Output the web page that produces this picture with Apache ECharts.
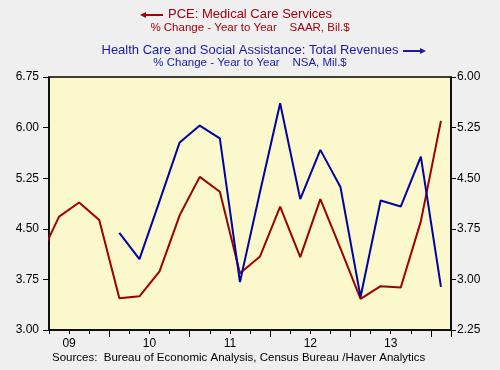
<!DOCTYPE html>
<html>
<head>
<meta charset="utf-8">
<script src="https://cdn.jsdelivr.net/npm/echarts@6/dist/echarts.min.js"></script>
<style>
html,body{margin:0;padding:0;background:#EFEFEF;}
#c{width:500px;height:370px;}
</style>
</head>
<body>
<div id="c"></div>
<script>
// Quarters (first one lies just left of the visible axis and is clipped)
var quarters = ['2009Q1','2009Q2','2009Q3','2009Q4','2010Q1','2010Q2','2010Q3','2010Q4',
  '2011Q1','2011Q2','2011Q3','2011Q4','2012Q1','2012Q2','2012Q3','2012Q4',
  '2013Q1','2013Q2','2013Q3','2013Q4','2014Q1'];
// PCE: Medical Care Services, % change y/y (left axis)
var pceMedical = [4.05, 4.68, 4.89, 4.63, 3.47, 3.50, 3.87, 4.70, 5.27, 5.05, 3.84,
  4.09, 4.83, 4.08, 4.94, 4.21, 3.46, 3.65, 3.63, 4.61, 6.10];
// Health Care and Social Assistance: Total Revenues, % change y/y (right axis)
var healthRevenue = [null, null, null, null, 3.69, 3.30, 4.16, 5.03, 5.28, 5.09, 2.96,
  4.30, 5.61, 4.19, 4.92, 4.37, 2.74, 4.17, 4.08, 4.82, 2.89];
var leftTicks = [3.00, 3.75, 4.50, 5.25, 6.00, 6.75];
var rightTicks = [2.25, 3.00, 3.75, 4.50, 5.25, 6.00];

var axisQuarters = quarters.slice(1);

function toPairs(vals) {
  var out = [];
  for (var i = 0; i < vals.length; i++) {
    if (vals[i] !== null) out.push([i - 0.5, vals[i]]);
  }
  return out;
}

var txt = '#000';
var font = 'Liberation Sans, Arial, sans-serif';
var chart = echarts.init(document.getElementById('c'), null, {renderer: 'canvas'});

var option = {
  backgroundColor: '#EFEFEF',
  animation: false,
  grid: {left: 49, right: 49, top: 77, height: 253, show: true,
    backgroundColor: '#FBF8CB', borderColor: '#000', borderWidth: 1.5},
  xAxis: [{
    type: 'value', min: 0, max: axisQuarters.length, interval: 1, position: 'bottom',
    axisLine: {show: true, lineStyle: {color: '#000', width: 1.5}},
    axisTick: {show: true, length: 4, lineStyle: {color: '#000', width: 1}},
    splitLine: {show: false},
    axisLabel: {color: txt, fontFamily: font, fontSize: 12, margin: 8,
      showMinLabel: true, showMaxLabel: true,
      formatter: function (v) {
        var q = axisQuarters[v];
        if (q && q.slice(4) === 'Q3') return q.slice(2, 4);
        return '';
      }}
  }, {
    type: 'category', data: axisQuarters, boundaryGap: true, position: 'bottom',
    axisLine: {show: false},
    axisTick: {show: true, length: 7, lineStyle: {color: '#000', width: 1},
      interval: function (i, v) { return v.slice(4) === 'Q1'; }},
    axisLabel: {show: false},
    splitLine: {show: false}
  }],
  yAxis: [{
    type: 'value', position: 'left', min: leftTicks[0], max: leftTicks[leftTicks.length - 1], interval: 0.75,
    axisLine: {show: true, lineStyle: {color: '#000', width: 1.5}},
    axisTick: {show: true, length: 6, lineStyle: {color: '#000'}},
    splitLine: {show: false},
    axisLabel: {color: txt, fontFamily: font, fontSize: 12, margin: 10,
      formatter: function (v) { return v.toFixed(2); }}
  }, {
    type: 'value', position: 'right', min: rightTicks[0], max: rightTicks[rightTicks.length - 1], interval: 0.75,
    axisLine: {show: true, lineStyle: {color: '#000', width: 1.5}},
    axisTick: {show: true, length: 5, lineStyle: {color: '#000'}},
    splitLine: {show: false},
    axisLabel: {color: txt, fontFamily: font, fontSize: 12, margin: 6,
      formatter: function (v) { return v.toFixed(2); }}
  }],
  series: [{
    name: 'PCE: Medical Care Services', type: 'line', xAxisIndex: 0, yAxisIndex: 0,
    data: toPairs(pceMedical), showSymbol: false, symbol: 'none', clip: true,
    lineStyle: {color: '#990000', width: 2}
  }, {
    name: 'Health Care and Social Assistance: Total Revenues', type: 'line', xAxisIndex: 0, yAxisIndex: 1,
    data: toPairs(healthRevenue), showSymbol: false, symbol: 'none', clip: true,
    lineStyle: {color: '#0000A0', width: 2}
  }],
  graphic: [
    {type: 'text', left: 'center', top: 8, style: {text: 'PCE: Medical Care Services', fill: '#A00010', font: '13px ' + font}},
    {type: 'text', left: 'center', top: 22, style: {text: '% Change - Year to Year    SAAR, Bil.$', fill: '#A00010', font: '11.5px ' + font}},
    {type: 'text', left: 'center', top: 44, style: {text: 'Health Care and Social Assistance: Total Revenues', fill: '#1A1AA0', font: '13px ' + font}},
    {type: 'text', left: 'center', top: 57, style: {text: '% Change - Year to Year    NSA, Mil.$', fill: '#1A1AA0', font: '11.5px ' + font}},
    {type: 'line', shape: {x1: 144, y1: 15, x2: 163, y2: 15}, style: {stroke: '#A00010', lineWidth: 2}},
    {type: 'polygon', shape: {points: [[140, 15], [146, 12], [146, 18]]}, style: {fill: '#A00010'}},
    {type: 'line', shape: {x1: 403, y1: 51, x2: 422, y2: 51}, style: {stroke: '#1A1AA0', lineWidth: 2}},
    {type: 'polygon', shape: {points: [[426, 51], [420, 48], [420, 54]]}, style: {fill: '#1A1AA0'}},
    {type: 'text', left: 52, top: 352, style: {text: 'Sources:  Bureau of Economic Analysis, Census Bureau /Haver Analytics', fill: '#000', font: '11.5px ' + font}}
  ]
};
chart.setOption(option);
</script>
</body>
</html>
